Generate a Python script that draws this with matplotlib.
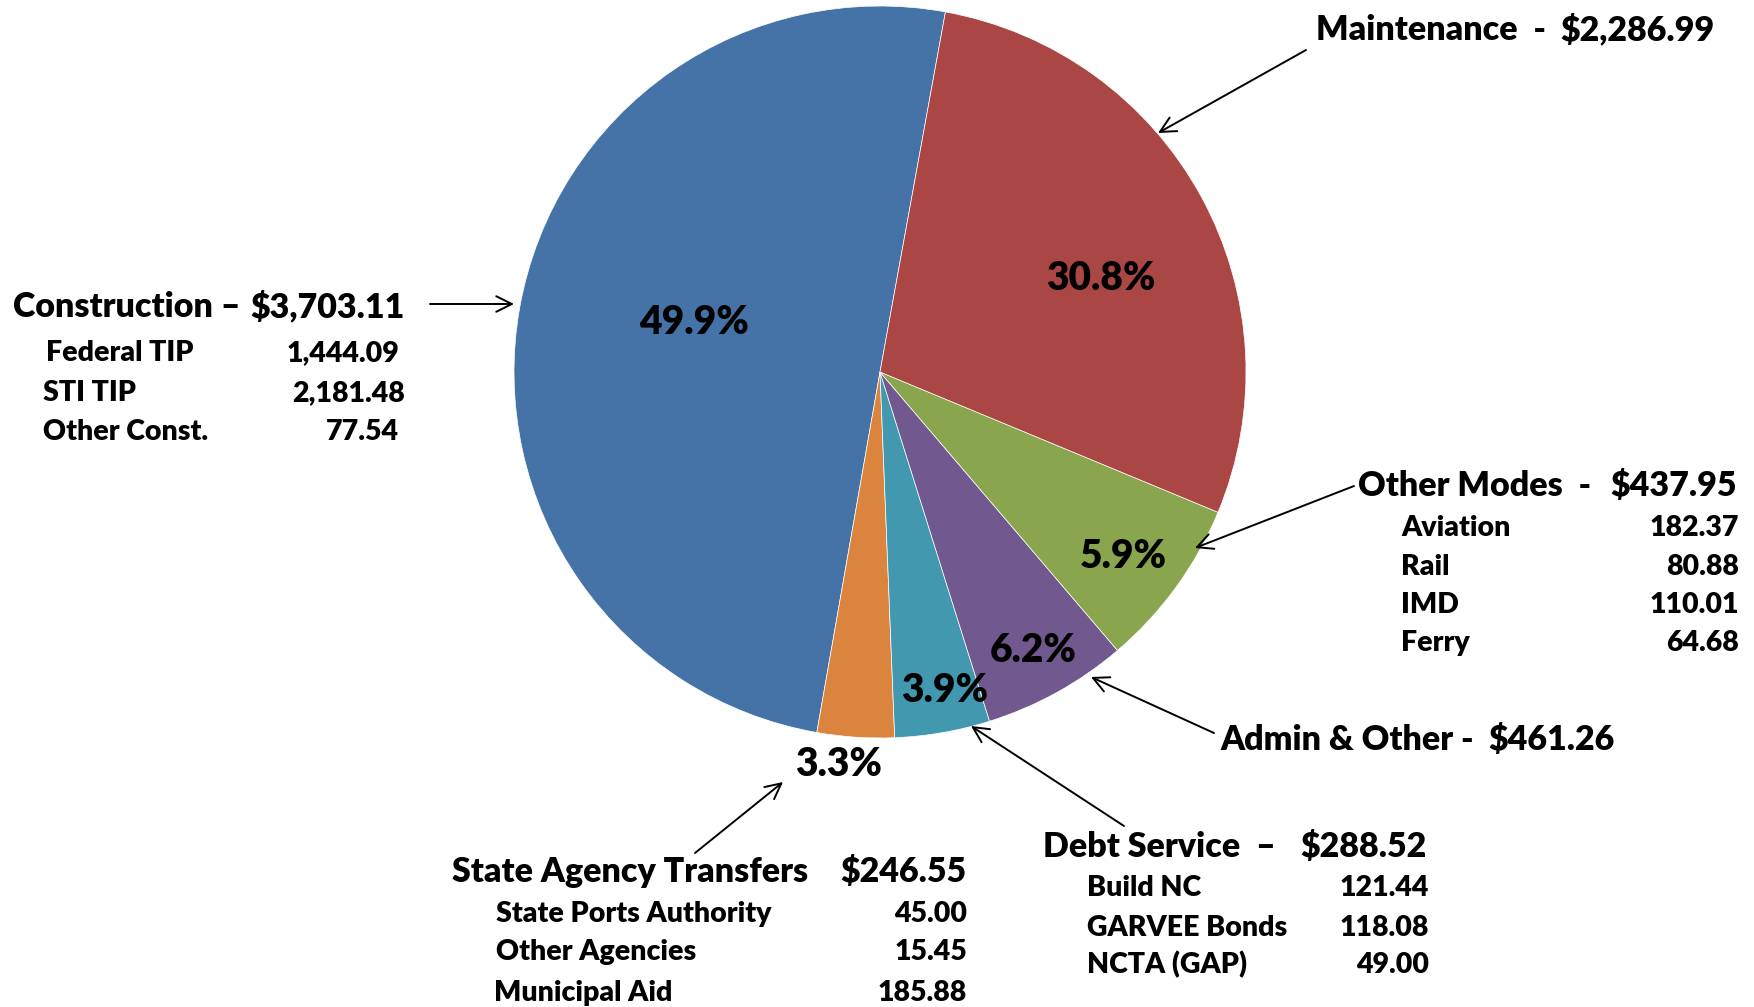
import matplotlib
matplotlib.use("Agg")
import matplotlib.pyplot as plt

# ---------------- data ----------------
categories = ["Construction", "State Agency Transfers", "Debt Service",
              "Admin & Other", "Other Modes", "Maintenance"]
amounts = [3703.11, 246.55, 288.52, 461.26, 437.95, 2286.99]
# wedge shares as drawn in the picture (percent of the circle)
wedge_pct_drawn = [50.1, 3.4, 4.2, 6.4, 7.5, 28.4]
colors = ["#4572A7", "#DB843D", "#4198AF", "#71588F", "#89A54E", "#AA4643"]

construction_items = ["Federal TIP", "STI TIP", "Other Const."]
construction_values = [1444.09, 2181.48, 77.54]
other_modes_items = ["Aviation", "Rail", "IMD", "Ferry"]
other_modes_values = [182.37, 80.88, 110.01, 64.68]
debt_items = ["Build NC", "GARVEE Bonds", "NCTA (GAP)"]
debt_values = [121.44, 118.08, 49.00]
state_items = ["State Ports Authority", "Other Agencies", "Municipal Aid"]
state_values = [45.00, 15.45, 185.88]

# ---------------- layout ----------------
W, H = 1754, 1007
FONT = "Lato"
WEIGHT = "heavy"
HEAD = 24.5
SUB = 20.5
PCT = 28


def Y(y):
    return H - y


fig = plt.figure(figsize=(W / 100, H / 100), dpi=100)
ax = fig.add_axes([0, 0, 1, 1])

cx, cy, R = 880, 372, 366
ax.pie(wedge_pct_drawn, colors=colors, startangle=79.7, counterclock=True,
       center=(cx, Y(cy)), radius=R,
       wedgeprops=dict(edgecolor="white", linewidth=0.5))
ax.set_xlim(0, W)
ax.set_ylim(0, H)
ax.set_aspect("equal")
ax.axis("off")

total = sum(amounts)
pct = {c: 100 * a / total for c, a in zip(categories, amounts)}
amt = dict(zip(categories, amounts))

# percent labels (position in pixel layout)
pct_pos = {
    "Construction": (694, 322),
    "Maintenance": (1101, 279),
    "Other Modes": (1123, 557),
    "Admin & Other": (1033, 650),
    "Debt Service": (945, 691),
    "State Agency Transfers": (839, 764),
}
for c in categories:
    x, y = pct_pos[c]
    ax.text(x, Y(y), f"{pct[c]:.1f}%", fontsize=PCT, fontweight=WEIGHT,
            family=FONT, ha="center", va="center", color="black")


def txt(x, y, s, size=HEAD, ha="left"):
    ax.text(x, Y(y + 2), s, fontsize=size, fontweight=WEIGHT, family=FONT,
            ha=ha, va="center", color="black")


def arrow(start, tip):
    ax.annotate("", xy=(tip[0], Y(tip[1])), xytext=(start[0], Y(start[1])),
                arrowprops=dict(arrowstyle="->", lw=1.4, color="black",
                                mutation_scale=28, shrinkA=0, shrinkB=0))


def money(v):
    return f"${v:,.2f}"


# Construction
txt(13, 305, "Construction \u2013")
txt(405, 305, money(amt["Construction"]), ha="right")
for i, (n, v) in enumerate(zip(construction_items, construction_values)):
    yy = [351, 391, 430][i]
    xl = [46, 43, 43][i]
    xr = [399, 405, 399][i]
    txt(xl, yy, n, SUB)
    txt(xr, yy, f"{v:,.2f}", SUB, ha="right")
arrow((430, 304), (514, 304))

# Maintenance
txt(1316, 28, "Maintenance  -")
txt(1714, 28, money(amt["Maintenance"]), ha="right")
arrow((1306, 50), (1158, 133))

# Other Modes
txt(1358, 484, "Other Modes  -")
txt(1737, 484, money(amt["Other Modes"]), ha="right")
for i, (n, v) in enumerate(zip(other_modes_items, other_modes_values)):
    yy = [526, 565, 603, 641][i]
    txt(1401, yy, n, SUB)
    txt(1739, yy, f"{v:,.2f}", SUB, ha="right")
arrow((1354, 486), (1195, 548))

# Admin & Other
txt(1220, 738, "Admin & Other -")
txt(1615, 738, money(amt["Admin & Other"]), ha="right")
arrow((1214, 733), (1091, 677))

# Debt Service
txt(1043, 845, "Debt Service  \u2013")
txt(1427, 845, money(amt["Debt Service"]), ha="right")
for i, (n, v) in enumerate(zip(debt_items, debt_values)):
    yy = [886, 926, 963][i]
    txt(1087, yy, n, SUB)
    txt(1429, yy, f"{v:,.2f}", SUB, ha="right")
arrow((1124, 826), (971, 726))

# State Agency Transfers
txt(452, 870, "State Agency Transfers")
txt(966, 870, money(amt["State Agency Transfers"]), ha="right")
for i, (n, v) in enumerate(zip(state_items, state_values)):
    yy = [912, 950, 991][i]
    xl = [496, 496, 494][i]
    txt(xl, yy, n, SUB)
    txt(967, yy, f"{v:,.2f}", SUB, ha="right")
arrow((695, 853), (783, 782))

fig.savefig("out.png", dpi=100, facecolor="white")
